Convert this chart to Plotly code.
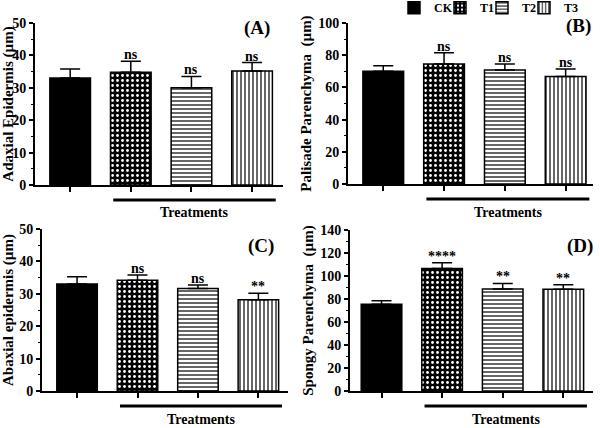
import plotly.graph_objects as go

# ---------------- data ----------------
groups = ["CK", "T1", "T2", "T3"]
panels = ["(A)", "(B)", "(C)", "(D)"]
ytitles = ["Adaxial Epidermis (µm)", "Palisade Parenchyma  (µm)",
           "Abaxial epidermis (µm)", "Spongy Parenchyma  (µm)"]
adaxial_mean = [33.0, 34.8, 30.0, 35.2]
adaxial_err = [2.8, 3.4, 3.5, 2.6]
palisade_mean = [70.0, 74.5, 70.8, 66.8]
palisade_err = [3.5, 7.0, 3.7, 4.7]
abaxial_mean = [33.0, 34.2, 31.6, 28.2]
abaxial_err = [2.3, 1.6, 1.1, 2.0]
spongy_mean = [75.5, 106.5, 88.8, 88.5]
spongy_err = [3.0, 5.0, 4.7, 4.0]
adaxial_sig = ["", "ns", "ns", "ns"]
palisade_sig = ["", "ns", "ns", "ns"]
abaxial_sig = ["", "ns", "ns", "**"]
spongy_sig = ["", "****", "**", "**"]
yranges = [[0, 50], [0, 100], [0, 50], [0, 140]]
ydticks = [10, 20, 10, 20]
xlabel = "Treatments"

means = [adaxial_mean, palisade_mean, abaxial_mean, spongy_mean]
errs = [adaxial_err, palisade_err, abaxial_err, spongy_err]
sigs = [adaxial_sig, palisade_sig, abaxial_sig, spongy_sig]

# ---------------- layout geometry ----------------
W, H = 600, 428
boxes = [(35, 283, 185, 23), (348, 593, 184, 23),
         (42, 288, 391, 229), (350, 593, 391, 230)]
xranges = [[-0.58, 3.51], [-0.58, 3.45], [-0.58, 3.49], [-0.52, 3.49]]
label_pos = [(257, 28), (578, 26), (261, 246), (580, 246)]
legend_icon_x = [414, 460, 502, 544]

patterns = [
    dict(shape=""),
    dict(shape=".", fgcolor="white", bgcolor="black", size=5, solidity=0.25, fillmode="replace"),
    dict(shape="-", fgcolor="black", bgcolor="white", size=4, solidity=0.3, fillmode="replace"),
    dict(shape="|", fgcolor="black", bgcolor="white", size=4, solidity=0.3, fillmode="replace"),
]
colors = ["black", "black", "white", "white"]

SERIF = "Liberation Serif"
fig = go.Figure()
annotations = []
shapes = []
layout = {}
legend_names = ["legend", "legend2", "legend3", "legend4"]

for p in range(4):
    ax = "" if p == 0 else str(p + 1)
    l, r, b, t = boxes[p]
    for i, g in enumerate(groups):
        fig.add_trace(go.Bar(
            x=[i], y=[means[p][i]], name=g, width=0.67,
            xaxis="x" + ax, yaxis="y" + ax,
            marker=dict(color=colors[i], line=dict(color="black", width=1.5),
                        pattern=patterns[i]),
            error_y=dict(type="data", array=[errs[p][i]], arrayminus=[0],
                         symmetric=False, color="black", thickness=1.5, width=10),
            showlegend=(p == 0), legendgroup=g, legend=legend_names[i],
        ))
        if sigs[p][i]:
            annotations.append(dict(
                x=i, y=means[p][i] + errs[p][i], xref="x" + ax, yref="y" + ax,
                text=sigs[p][i], showarrow=False, yanchor="bottom", yshift=-3,
                font=dict(family=SERIF, size=14, color="#000000", weight="bold")))
    layout["xaxis" + ax] = dict(
        domain=[l / W, r / W], range=xranges[p], anchor="y" + ax,
        showline=True, linecolor="black", linewidth=2,
        tickvals=[0, 1, 2, 3], showticklabels=False, ticks="outside",
        ticklen=5, tickwidth=1.5, tickcolor="black",
        showgrid=False, zeroline=False, fixedrange=True)
    layout["yaxis" + ax] = dict(
        domain=[(H - b) / H, (H - t) / H], range=yranges[p], anchor="x" + ax,
        dtick=ydticks[p], showline=True, linecolor="black", linewidth=2,
        ticks="outside", ticklen=4, tickwidth=1.5, tickcolor="black",
        minor=dict(ticks="outside", ticklen=2, tickwidth=1, tickcolor="black",
                   dtick=ydticks[p] / 2, showgrid=False),
        tickfont=dict(family=SERIF, size=14, color="black", weight="bold"),
        title=dict(text=ytitles[p], standoff=3,
                   font=dict(family=SERIF, size=15, color="black", weight="bold")),
        showgrid=False, zeroline=False, fixedrange=True)
    shapes.append(dict(type="line", xref="x" + ax, yref="y" + ax + " domain",
                       x0=0.71, x1=3.39, y0=-15 / (b - t), y1=-15 / (b - t),
                       line=dict(color="black", width=3)))
    annotations.append(dict(
        x=2.05, y=-28 / (b - t), xref="x" + ax, yref="y" + ax + " domain",
        text=xlabel, showarrow=False, yanchor="middle",
        font=dict(family=SERIF, size=14, color="black", weight="bold")))
    lx, ly = label_pos[p]
    annotations.append(dict(
        x=lx / W, y=(H - ly) / H, xref="paper", yref="paper", text=panels[p],
        showarrow=False, xanchor="center", yanchor="middle",
        font=dict(family=SERIF, size=19, color="black", weight="bold")))

for i, name in enumerate(legend_names):
    layout[name] = dict(
        orientation="h", x=(legend_icon_x[i] - 20) / W, xanchor="left",
        y=1.016, yanchor="top", itemwidth=30, bgcolor="rgba(0,0,0,0)",
        font=dict(family=SERIF, size=12, color="black", weight="bold"))

fig.update_layout(
    width=W, height=H,
    margin=dict(l=0, r=0, t=0, b=0, pad=0, autoexpand=False),
    plot_bgcolor="white", paper_bgcolor="white", barmode="overlay",
    annotations=annotations, shapes=shapes,
    **layout,
)

fig.write_html("out.html")
